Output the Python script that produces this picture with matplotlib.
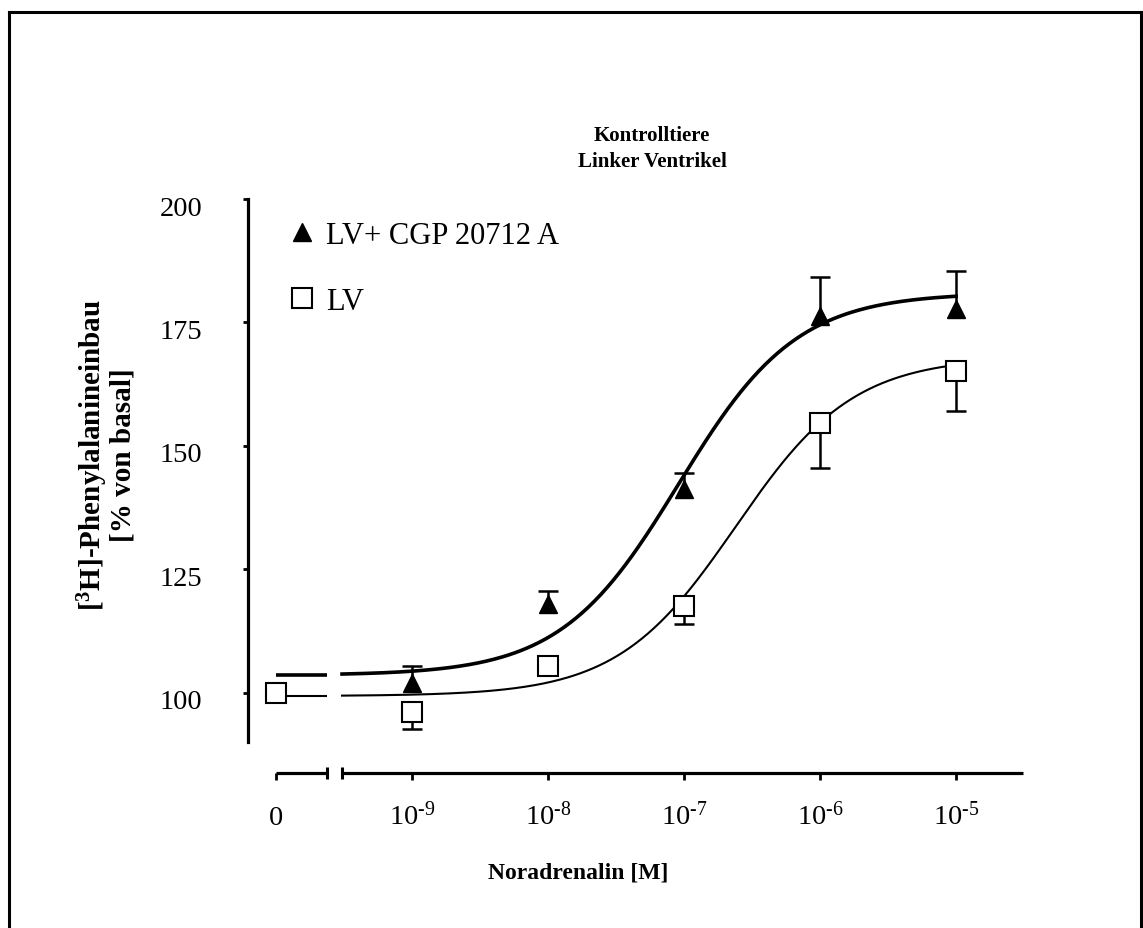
import numpy as np
import matplotlib.pyplot as plt
from matplotlib.lines import Line2D
from matplotlib.transforms import ScaledTranslation, blended_transform_factory

plt.rcParams['font.family'] = 'Liberation Serif'
plt.rcParams['mathtext.fontset'] = 'custom'
plt.rcParams['mathtext.rm'] = 'Liberation Serif'
plt.rcParams['mathtext.bf'] = 'Liberation Serif:bold'
plt.rcParams['mathtext.it'] = 'Liberation Serif:italic'

# log10 of the noradrenaline concentration; the "0" control sits one decade left of 1e-9
log_conc = [-10, -9, -8, -7, -6, -5]
conc_labels = ['0', r'$10^{\text{-9}}$', r'$10^{\text{-8}}$', r'$10^{\text{-7}}$',
               r'$10^{\text{-6}}$', r'$10^{\text{-5}}$']

# LV (open squares), error bars drawn downwards
lv_mean = [100.0, 96.0, 105.3, 117.6, 154.7, 165.1]
lv_err = [0.0, 3.3, 1.0, 3.8, 9.2, 8.1]

# LV + CGP 20712 A (filled triangles), error bars drawn upwards
cgp_conc = [-9, -8, -7, -6, -5]
cgp_mean = [102.0, 118.0, 141.3, 176.3, 177.7]
cgp_err = [3.3, 2.5, 3.2, 7.8, 7.7]

# sigmoidal fit parameters: bottom, top, logEC50
lv_fit = (99.3, 168.0, -6.62)
cgp_fit = (103.5, 181.0, -7.04)

y_ticks = [100, 125, 150, 175, 200]


def hill(x, bottom, top, logec50):
    return bottom + (top - bottom) / (1 + 10 ** (logec50 - x))


fig = plt.figure(figsize=(11.43, 9.29), dpi=100)
ax = fig.add_axes([0.2170, 0.1668, 0.6842, 0.6179])
ax.set_xlim(-10.206, -4.456)
ax.set_ylim(83.7, 200)

# broken x axis: "0" segment, then the log segment
brk_lo, brk_hi = -9.625, -9.515
ax_lw = 2.3
xt = ax.get_xaxis_transform()
ax.plot([log_conc[0], brk_lo], [0, 0], color='black', lw=ax_lw, transform=xt,
        clip_on=False, solid_capstyle='butt')
ax.plot([brk_hi, -4.51], [0, 0], color='black', lw=ax_lw, transform=xt,
        clip_on=False, solid_capstyle='butt')
ax.plot([brk_lo, brk_hi], [0, 0], ls='none', marker='|', ms=8, mew=2.2,
        color='black', transform=xt, clip_on=False)

# fitted curves
xs = np.linspace(brk_hi, log_conc[-1], 300)
for fit, lw in [(cgp_fit, 2.6), (lv_fit, 1.5)]:
    ax.plot([log_conc[0], brk_lo], [fit[0], fit[0]], color='black', lw=lw,
            solid_capstyle='butt', zorder=2)
    ax.plot(xs, hill(xs, *fit), color='black', lw=lw, zorder=2)

# error bars (one-sided)
_, caps, _ = ax.errorbar(cgp_conc, cgp_mean, yerr=[np.zeros(len(cgp_err)), cgp_err],
                         fmt='none', ecolor='black', elinewidth=1.8, capsize=7,
                         capthick=1.8, zorder=3)
caps[0].set_visible(False)
_, caps, _ = ax.errorbar(log_conc, lv_mean, yerr=[lv_err, np.zeros(len(lv_err))],
                         fmt='none', ecolor='black', elinewidth=1.8, capsize=7,
                         capthick=1.8, zorder=3)
caps[1].set_visible(False)

ax.plot(cgp_conc, cgp_mean, ls='none', marker='^', ms=13, color='black', zorder=4)
ax.plot(log_conc, lv_mean, ls='none', marker='s', ms=15, mfc='white', mec='black',
        mew=1.5, zorder=4)

# axes styling
for side in ['top', 'right', 'bottom']:
    ax.spines[side].set_visible(False)
ax.spines['left'].set_linewidth(ax_lw)
ax.spines['left'].set_bounds(90, 200)
ax.set_yticks(y_ticks)
ax.set_xticks(log_conc)
ax.set_yticklabels([])
ax.set_xticklabels([])
ax.tick_params(axis='y', direction='out', length=3.6, width=2)
ax.tick_params(axis='x', direction='out', length=5, width=2)

# tick labels
ytr = blended_transform_factory(ax.transAxes, ax.transData)
for v in y_ticks:
    ax.text(0, v, str(v), fontsize=20.5, ha='right', va='center',
            transform=ytr + ScaledTranslation(-46 / 100, -9 / 100, fig.dpi_scale_trans))
for x, lab in zip(log_conc, conc_labels):
    ax.text(x, 0, lab, fontsize=20.5, ha='center', va='baseline',
            transform=xt + ScaledTranslation(0, -51 / 100, fig.dpi_scale_trans))

# legend
handles = [Line2D([], [], ls='none', marker='^', ms=13, color='black'),
           Line2D([], [], ls='none', marker='s', ms=14, mfc='white', mec='black', mew=1.5)]
ax.legend(handles, ['LV+ CGP 20712 A', 'LV'], loc='upper left',
          bbox_to_anchor=(287 / 1143, 1 - 222 / 929), bbox_transform=fig.transFigure,
          frameon=False, fontsize=22, handlelength=1.0, handletextpad=0.28,
          borderpad=0, borderaxespad=0, labelspacing=1.2)

# titles and axis labels
fig.text(652 / 1143, 1 - 149 / 929, 'Kontrolltiere\nLinker Ventrikel', fontsize=15,
         fontweight='bold', ha='center', va='center', linespacing=1.45)
fig.text(578 / 1143, 1 - 873 / 929, 'Noradrenalin [M]', fontsize=17,
         fontweight='bold', ha='center', va='center')
fig.text(106 / 1143, 1 - 455 / 929,
         '[$^{\\mathbf{3}}$H]-Phenylalanineinbau\n[% von basal]', fontsize=21,
         fontweight='bold', ha='center', va='center', rotation=90, linespacing=0.95)

# outer frame (left, top, right)
frame = dict(color='black', lw=2.2, transform=fig.transFigure)
fx0, fx1, fy1 = 9 / 1143, 1141 / 1143, 1 - 13 / 929
fig.add_artist(Line2D([fx0, fx0], [0, fy1], **frame))
fig.add_artist(Line2D([fx0, fx1], [fy1, fy1], **frame))
fig.add_artist(Line2D([fx1, fx1], [fy1, 0], **frame))

fig.savefig('out.png', dpi=100)
